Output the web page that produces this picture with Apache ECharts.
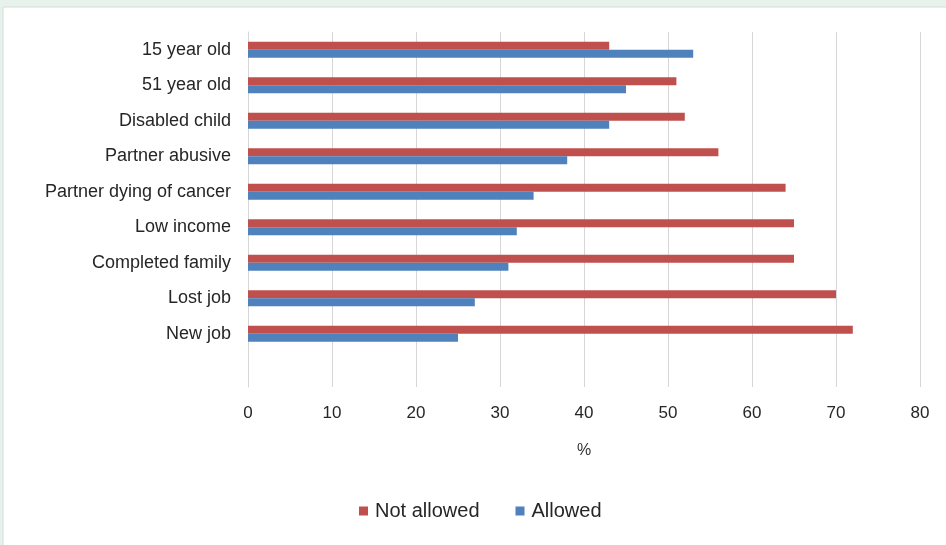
<!DOCTYPE html>
<html>
<head>
<meta charset="utf-8">
<script src="https://cdn.jsdelivr.net/npm/echarts@6/dist/echarts.min.js"></script>
<style>
  html, body { margin: 0; padding: 0; background: #e7f2ec; }
  #main { width: 946px; height: 545px; }
</style>
</head>
<body>
<div id="main"></div>
<script>
var categories = ['15 year old', '51 year old', 'Disabled child', 'Partner abusive',
    'Partner dying of cancer', 'Low income', 'Completed family', 'Lost job', 'New job'];
var notAllowed = [43, 51, 52, 56, 64, 65, 65, 70, 72];
var allowed = [53, 45, 43, 38, 34, 32, 31, 27, 25];
var xTicks = [0, 10, 20, 30, 40, 50, 60, 70, 80];

var myChart = echarts.init(document.getElementById('main'));

var option = {
    animation: false,
    textStyle: { fontFamily: 'Liberation Sans, Arial, sans-serif' },
    graphic: [{
        type: 'rect',
        z: -10,
        shape: { x: 3, y: 7, width: 960, height: 560 },
        style: { fill: '#ffffff', stroke: '#d4dcd8', lineWidth: 1 }
    }],
    legend: {
        top: 496,
        left: 354,
        itemWidth: 9,
        itemHeight: 9,
        itemGap: 36,
        icon: 'rect',
        textStyle: { fontSize: 20, color: '#262626', padding: [0, 0, 0, 2] },
        data: ['Not allowed', 'Allowed']
    },
    grid: { left: 248, right: 26, top: 32, bottom: 158 },
    xAxis: {
        type: 'value',
        min: 0,
        max: 80,
        interval: 10,
        name: '%',
        nameLocation: 'middle',
        nameGap: 56,
        nameTextStyle: { fontSize: 16, color: '#333' },
        axisLine: { show: false },
        axisTick: { show: false },
        axisLabel: {
            fontSize: 17,
            color: '#262626',
            margin: 18,
            formatter: function (v) { return xTicks.indexOf(v) >= 0 ? String(v) : ''; }
        },
        splitLine: { lineStyle: { color: '#d6d6d6', width: 1 } }
    },
    yAxis: {
        type: 'category',
        inverse: true,
        data: categories,
        max: 9,
        axisLine: { lineStyle: { color: '#d6d6d6' } },
        axisTick: { show: false },
        axisLabel: { fontSize: 18, color: '#262626', margin: 17 }
    },
    series: [{
        name: 'Not allowed',
        type: 'bar',
        data: notAllowed,
        barWidth: 8,
        barGap: 0,
        itemStyle: { color: '#c0504d' }
    }, {
        name: 'Allowed',
        type: 'bar',
        data: allowed,
        barWidth: 8,
        barGap: 0,
        itemStyle: { color: '#4f81bd' }
    }]
};
myChart.setOption(option);
</script>
</body>
</html>
